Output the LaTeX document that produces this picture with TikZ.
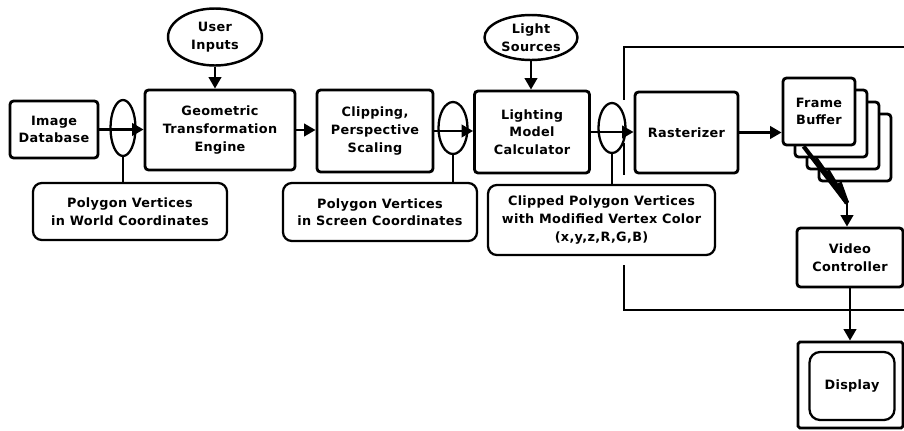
\documentclass[tikz,border=0pt]{standalone}
\usepackage{fontspec}
\setmainfont[LetterSpace=2.5]{DejaVu Sans}
\usetikzlibrary{arrows.meta,shapes.geometric}
\begin{document}
\begin{tikzpicture}[x=0.02cm,y=-0.02cm,
  every node/.style={font=\bfseries\fontsize{7.3}{10}\selectfont,align=center,inner sep=0pt},
  unit/.style={draw,line width=1.6pt,rounded corners=2pt,fill=white},
  note/.style={draw,line width=1.3pt,rounded corners=5pt,fill=white},
  source/.style={draw,ellipse,line width=1.4pt,fill=white},
  tap/.style={draw,ellipse,line width=1.3pt},
  flow/.style={line width=1.5pt,-{Triangle[length=6.5pt,width=7pt]}},
  wire/.style={line width=1.2pt},
  fan/.style={line width=2.4pt}]
\useasboundingbox (0,0) rectangle (904,430);
\coordinate (busTR) at (904,47);
\coordinate (busTL) at (624,47);
\coordinate (busA) at (624,100);
\coordinate (busB) at (624,143);
\coordinate (busC) at (624,175);
\coordinate (busD) at (624,265);
\coordinate (busBL) at (624,310);
\coordinate (busBR) at (904,310);
\draw[wire] (busTR) -- (busTL) -- (busA);
\draw[wire] (busB) -- (busC);
\draw[wire] (busD) -- (busBL) -- (busBR);
\node[unit,minimum width=1.76cm,minimum height=1.14cm] (db) at (54,129.5) {Image\\Database};
\node[tap,minimum width=0.5cm,minimum height=1.12cm] (tap1) at (123,128) {};
\node[unit,minimum width=3cm,minimum height=1.6cm] (gte) at (220,130) {Geometric\\Transformation\\Engine};
\node[source,minimum width=1.88cm,minimum height=1.14cm] (user) at (215,37) {User\\Inputs};
\node[note,minimum width=3.88cm,minimum height=1.14cm] (world) at (130,211.5) {Polygon Vertices\\in World Coordinates};
\node[unit,minimum width=2.32cm,minimum height=1.64cm] (clip) at (375,131) {Clipping,\\Perspective\\Scaling};
\node[tap,minimum width=0.58cm,minimum height=1.04cm] (tap2) at (453,128) {};
\node[note,minimum width=3.88cm,minimum height=1.16cm] (screen) at (380,212) {Polygon Vertices\\in Screen Coordinates};
\node[unit,minimum width=2.3cm,minimum height=1.64cm] (model) at (532,132) {Lighting\\Model\\Calculator};
\node[source,minimum width=1.86cm,minimum height=0.9cm] (lights) at (531,37.5) {Light\\Sources};
\node[tap,minimum width=0.54cm,minimum height=1cm] (tap3) at (612,128) {};
\node[note,minimum width=4.54cm,minimum height=1.4cm] (clipped) at (601.5,220) {Clipped Polygon Vertices\\with Modified Vertex Color\\(x,y,z,R,G,B)};
\node[unit,minimum width=2.06cm,minimum height=1.62cm] (raster) at (686.5,132.5) {Rasterizer};
\foreach \i in {3,2,1}
  \node[unit,minimum width=1.44cm,minimum height=1.34cm] (fb\i) at (819+12*\i,111.5+12*\i) {};
\node[unit,minimum width=1.44cm,minimum height=1.34cm] (fb) at (819,111.5) {Frame\\Buffer};
\node[unit,minimum width=2.12cm,minimum height=1.18cm] (video) at (850,257.5) {Video\\Controller};
\node[unit,rounded corners=1pt,minimum width=2.1cm,minimum height=1.72cm] (disp) at (850.5,385) {};
\node[note,rounded corners=6pt,minimum width=1.7cm,minimum height=1.36cm] (dispscreen) at (852,386) {Display};
\coordinate (merge) at (847,203);
\draw[flow] (user.south) -- (user.south |- gte.north);
\draw[flow] (db.east) -- (db.east -| gte.west);
\draw[wire] (tap1.south) -- (tap1.south |- world.north);
\draw[flow] (gte.east) -- (gte.east -| clip.west);
\draw[flow] (clip.east) -- (clip.east -| model.west);
\draw[wire] (tap2.south) -- (tap2.south |- screen.north);
\draw[flow] (lights.south) -- (lights.south |- model.north);
\draw[flow] (model.east) -- (model.east -| raster.west);
\draw[wire] (tap3.south) -- (tap3.south |- clipped.north);
\draw[flow] (raster.east) -- (raster.east -| fb.west);
\foreach \n in {fb,fb1,fb2,fb3}
  \draw[fan] ([xshift=0.44cm]\n.south west) -- (merge);
\draw[flow] (merge) -- (merge |- video.north);
\draw[flow] (video.south) -- (video.south |- disp.north);
\end{tikzpicture}
\end{document}
